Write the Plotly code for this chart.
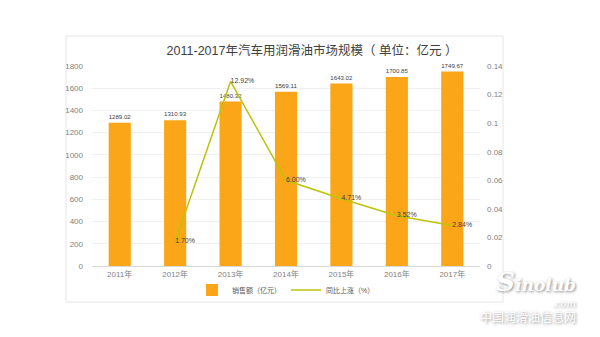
import plotly.graph_objects as go

# Market size of automotive lubricants, 2011-2017
years = ["2011年", "2012年", "2013年", "2014年", "2015年", "2016年", "2017年"]
sales = [1289.02, 1310.93, 1480.32, 1569.11, 1643.02, 1700.85, 1749.67]
growth = [None, 0.0170, 0.1292, 0.0600, 0.0471, 0.0352, 0.0284]
growth_labels = ["", "1.70%", "12.92%", "6.00%", "4.71%", "3.52%", "2.84%"]

left_ticks = [0, 200, 400, 600, 800, 1000, 1200, 1400, 1600, 1800]
right_ticks = [0, 0.02, 0.04, 0.06, 0.08, 0.1, 0.12, 0.14]
right_tick_text = ["0", "0.02", "0.04", "0.06", "0.08", "0.1", "0.12", "0.14"]

FONT = "Liberation Sans, Noto Sans CJK SC, sans-serif"
BAR = "#FBA619"
LINE = "#BDC30A"
TICK = "#7F7F7F"

fig = go.Figure()
fig.add_trace(go.Bar(
    x=years, y=sales, name="销售额（亿元）",
    marker=dict(color=BAR, line=dict(width=0)),
    text=[f"{v:.2f}" for v in sales], textposition="outside",
    textfont=dict(size=7, color="#404040", family=FONT),
    cliponaxis=False,
))
fig.add_trace(go.Scatter(
    x=years, y=growth, name="同比上涨（%）", yaxis="y2",
    mode="lines+text", line=dict(color=LINE, width=1.5),
    text=growth_labels, textposition="middle right",
    textfont=dict(size=7, color="#404040", family=FONT),
    cliponaxis=False,
))

fig.update_layout(
    width=600, height=337,
    margin=dict(l=92, r=120, t=66, b=71),
    paper_bgcolor="white", plot_bgcolor="white",
    font=dict(family=FONT, color=TICK, size=8),
    bargap=0.6,
    showlegend=True,
    legend=dict(orientation="h", x=0.5, xanchor="center", y=-0.12, yanchor="middle",
                font=dict(size=7, color="#595959"), itemwidth=30, tracegroupgap=0,
                bgcolor="rgba(0,0,0,0)"),
    title=dict(text="2011-2017年汽车用润滑油市场规模（ 单位：亿元 ）",
               x=0.52, xanchor="center", y=0.85, yanchor="middle",
               font=dict(size=12.5, color="#404040", family=FONT)),
    xaxis=dict(showline=True, linecolor="#D9D9D9", linewidth=1, ticks="",
               tickfont=dict(size=8, color=TICK)),
    yaxis=dict(range=[0, 1800], tickvals=left_ticks, gridcolor="#F0F0F0",
               zeroline=False, tickfont=dict(size=8, color=TICK), ticks="",
               ticklabelstandoff=8),
    yaxis2=dict(range=[0, 0.14], tickvals=right_ticks, ticktext=right_tick_text,
                overlaying="y", side="right", showgrid=False, zeroline=False,
                tickfont=dict(size=8, color=TICK), ticks="", ticklabelstandoff=6),
    shapes=[dict(type="rect", xref="paper", yref="paper",
                 x0=-26 / 388, x1=411 / 388, y0=-36 / 200, y1=230 / 200,
                 line=dict(color="#E6E6E6", width=1), fillcolor="rgba(0,0,0,0)",
                 layer="below")],
)

# site watermark in the lower right corner
watermark = ("<b><i><span style='font-size:26px'>S</span>"
             "<span style='font-size:17px'>inolub</span></i></b><br>"
             "<i><span style='font-size:10px'>.com</span></i><br>"
             "中国润滑油信息网")
fig.add_annotation(xref="paper", yref="paper", showarrow=False,
                   x=(578 - 92) / 388, y=(266 - 327) / 200,
                   xanchor="right", yanchor="bottom", align="right",
                   text=watermark,
                   font=dict(size=12, color="white", family="DejaVu Serif, Noto Sans CJK SC",
                             shadow="1px 1px 3px #888"))

fig.write_html("out.html")
